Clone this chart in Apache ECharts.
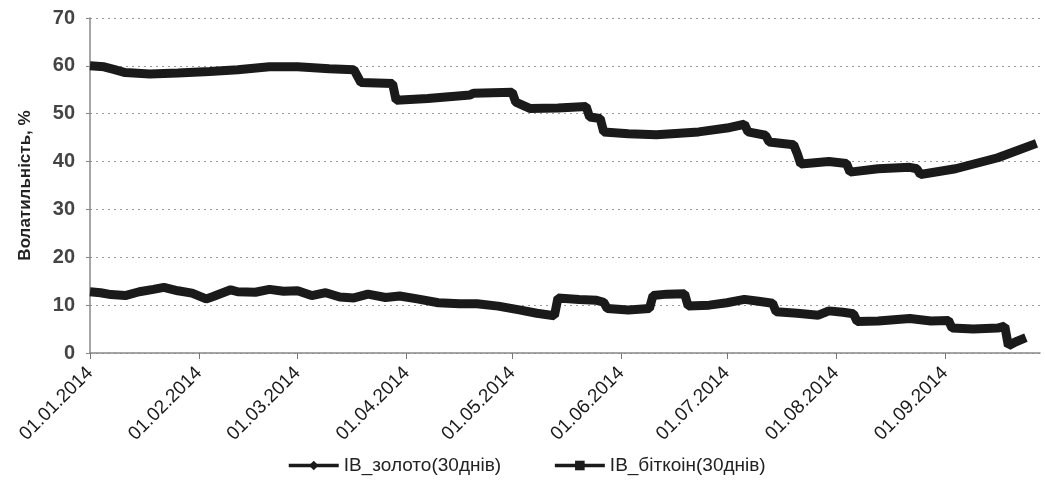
<!DOCTYPE html>
<html>
<head>
<meta charset="utf-8">
<script src="https://cdn.jsdelivr.net/npm/echarts@6/dist/echarts.min.js"></script>
<style>
html,body{margin:0;padding:0;background:#fff;}
#chart{width:1045px;height:482px;}
</style>
</head>
<body>
<div id="chart"></div>
<script>
// ---- data ----
const seriesNames = ['IB_золото(30днів)', 'IB_біткоін(30днів)'];
const yAxisName = 'Волатильність, %';
const yTicks = [0, 10, 20, 30, 40, 50, 60, 70];
const monthTickDates = ['2014-01-01','2014-02-01','2014-03-01','2014-04-01','2014-05-01','2014-06-01','2014-07-01','2014-08-01','2014-09-01'];

const goldDates = ['2014-01-01','2014-01-04','2014-01-07','2014-01-11','2014-01-15','2014-01-19','2014-01-22','2014-01-26','2014-01-30','2014-02-03','2014-02-05','2014-02-10','2014-02-12','2014-02-17','2014-02-21','2014-02-25','2014-03-01','2014-03-05','2014-03-09','2014-03-13','2014-03-17','2014-03-21','2014-03-26','2014-03-30','2014-04-04','2014-04-10','2014-04-16','2014-04-21','2014-04-27','2014-05-03','2014-05-08','2014-05-13','2014-05-14','2014-05-20','2014-05-25','2014-05-27','2014-05-28','2014-06-03','2014-06-09','2014-06-10','2014-06-14','2014-06-19','2014-06-20','2014-06-26','2014-07-01','2014-07-06','2014-07-10','2014-07-14','2014-07-15','2014-07-21','2014-07-27','2014-07-30','2014-08-03','2014-08-06','2014-08-07','2014-08-13','2014-08-22','2014-08-28','2014-09-02','2014-09-03','2014-09-09','2014-09-16','2014-09-18','2014-09-19','2014-09-21','2014-09-24'];
const goldVals = [12.8,12.6,12.2,12.0,12.8,13.3,13.7,13.0,12.5,11.3,11.8,13.2,12.8,12.7,13.3,12.9,13.0,12.0,12.6,11.7,11.5,12.3,11.6,11.9,11.3,10.5,10.3,10.3,9.8,9.0,8.3,7.8,11.5,11.2,11.0,10.6,9.3,9.0,9.3,12.0,12.3,12.4,9.8,10.0,10.5,11.2,10.8,10.4,8.6,8.3,7.9,8.8,8.5,8.2,6.6,6.7,7.2,6.7,6.8,5.2,5.0,5.2,5.6,1.5,2.3,3.2];

const btcDates = ['2014-01-01','2014-01-05','2014-01-08','2014-01-11','2014-01-18','2014-01-26','2014-02-04','2014-02-12','2014-02-21','2014-03-01','2014-03-10','2014-03-17','2014-03-19','2014-03-28','2014-03-29','2014-04-07','2014-04-19','2014-04-20','2014-05-01','2014-05-02','2014-05-06','2014-05-14','2014-05-22','2014-05-23','2014-05-26','2014-05-27','2014-06-03','2014-06-11','2014-06-23','2014-07-01','2014-07-06','2014-07-07','2014-07-12','2014-07-13','2014-07-20','2014-07-21','2014-07-22','2014-07-30','2014-08-04','2014-08-05','2014-08-13','2014-08-22','2014-08-24','2014-08-25','2014-09-04','2014-09-16','2014-09-27'];
const btcVals = [60.0,59.8,59.2,58.6,58.3,58.5,58.8,59.2,59.8,59.8,59.4,59.2,56.5,56.3,52.8,53.2,53.9,54.3,54.5,52.4,51.1,51.2,51.5,49.3,49.0,46.2,45.8,45.6,46.2,47.0,47.8,46.2,45.5,44.1,43.5,41.7,39.5,40.0,39.6,37.8,38.5,38.8,38.5,37.3,38.5,40.8,43.8];

const xMin = '2014-01-01';
const xMax = '2014-09-28';

// ---- helpers ----
function ts(s){ const p = s.split('-').map(Number); return new Date(p[0], p[1]-1, p[2]).getTime(); }
function pad(n){ return (n < 10 ? '0' : '') + n; }
function fmt(v){ const d = new Date(v); return pad(d.getDate()) + '.' + pad(d.getMonth()+1) + '.' + d.getFullYear(); }
const monthTicks = monthTickDates.map(ts);
const goldData = goldDates.map((d, i) => [ts(d), goldVals[i]]);
const btcData = btcDates.map((d, i) => [ts(d), btcVals[i]]);

const FONT = '"Liberation Sans", "Noto Sans", sans-serif';
const chart = echarts.init(document.getElementById('chart'));
chart.setOption({
  animation: false,
  backgroundColor: '#ffffff',
  textStyle: { fontFamily: FONT },
  grid: { left: 90, right: 5, top: 18, bottom: 129 },
  legend: {
    left: 282, top: 451,
    itemWidth: 50, itemHeight: 12, itemGap: 52,
    textStyle: { fontFamily: FONT, fontSize: 19, color: '#222' },
    lineStyle: { width: 3.5 },
    data: seriesNames
  },
  xAxis: {
    type: 'value',
    min: ts(xMin), max: ts(xMax),
    axisLine: { show: true, lineStyle: { color: '#888', width: 1.5 } },
    axisTick: { show: true, length: 6, lineStyle: { color: '#777' }, customValues: monthTicks },
    axisLabel: {
      customValues: monthTicks,
      rotate: 45, margin: 17,
      fontFamily: FONT, fontSize: 19, color: '#1a1a1a',
      formatter: fmt
    },
    splitLine: { show: false }
  },
  yAxis: {
    type: 'value', min: yTicks[0], max: yTicks[yTicks.length-1], interval: 10,
    name: yAxisName, nameLocation: 'middle', nameGap: 56,
    nameTextStyle: { fontFamily: FONT, fontSize: 17, fontWeight: 'bold', color: '#222' },
    axisLine: { show: true, lineStyle: { color: '#888', width: 1.5 } },
    axisTick: { show: true, length: 4, lineStyle: { color: '#888' } },
    axisLabel: { fontFamily: FONT, fontSize: 20, fontWeight: 'bold', color: '#444', margin: 15 },
    splitLine: { show: true, lineStyle: { color: '#999', type: [2, 4], width: 1.2 } }
  },
  series: [
    {
      name: seriesNames[0], type: 'line', data: goldData,
      symbol: 'diamond', symbolSize: 10, showSymbol: false,
      lineStyle: { color: '#1a1a1a', width: 9 },
      itemStyle: { color: '#1a1a1a' }
    },
    {
      name: seriesNames[1], type: 'line', data: btcData,
      symbol: 'rect', symbolSize: 10, showSymbol: false,
      lineStyle: { color: '#1a1a1a', width: 9 },
      itemStyle: { color: '#1a1a1a' }
    }
  ]
});
</script>
</body>
</html>
